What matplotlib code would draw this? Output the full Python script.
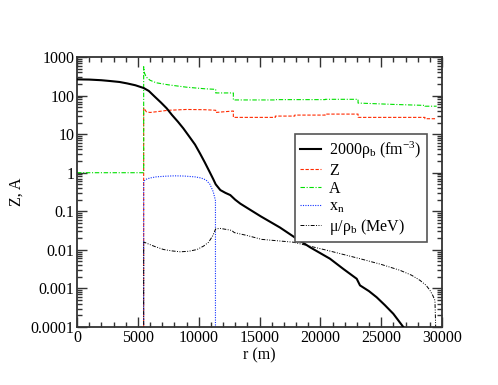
import matplotlib
matplotlib.use("Agg")
import matplotlib.pyplot as plt
from matplotlib.ticker import FixedLocator, FixedFormatter, MultipleLocator, LogLocator, NullFormatter

plt.rcParams['font.family'] = ['Liberation Serif', 'DejaVu Serif']
plt.rcParams['mathtext.fontset'] = 'custom'
plt.rcParams['mathtext.rm'] = 'Liberation Serif'
plt.rcParams['mathtext.it'] = 'Liberation Serif:italic'
plt.rcParams['mathtext.bf'] = 'Liberation Serif:bold'

# ---- data ----
r_rho = [0, 1000, 2000, 2740, 3500, 4110, 4800, 5480, 5900, 6400, 6900, 7370, 7800, 8300,
         8740, 9200, 9700, 10110, 10500, 10900, 11200, 11400, 11780, 12200, 12600, 13000,
         13420, 14220, 15100, 16680, 17900, 19150, 20000, 20790, 21890, 22990, 23260, 24000,
         24630, 25300, 26000, 26820, 27200]
rho = [263, 260, 250, 238, 225, 207, 185, 157, 132, 93, 66, 46.8, 31.6, 20.9,
       14.1, 8.9, 5.37, 3.16, 1.86, 1.05, 0.68, 0.50, 0.355, 0.30, 0.263, 0.20,
       0.158, 0.11, 0.074, 0.038, 0.021, 0.0117, 0.0082, 0.0059, 0.0032, 0.00178, 0.0012, 0.00085,
       0.00059, 0.00037, 0.00022, 0.0001, 0.00007]

r_Z = [5480, 5480, 5700, 6000, 6500, 7500, 9000, 10500, 11400, 11400, 12850, 12850,
       16300, 16300, 17900, 17900, 20400, 20400, 23100, 23100, 28600, 28600, 29560]
Z = [0, 48, 38, 36.5, 38, 41.6, 43.6, 43, 41.6, 36.5, 39.8, 27.2,
     27.2, 29.4, 29.4, 31.2, 31.2, 33.1, 33.1, 27.2, 27.2, 25.1, 25.1]

r_A = [0, 5480, 5480, 5550, 5700, 6000, 6500, 7500, 9000, 10500, 11400, 11400, 12850, 12850,
       16300, 16300, 20400, 20400, 23100, 23100, 26000, 28600, 28600, 29560]
A = [1, 1, 560, 380, 300, 250, 215, 190, 165, 150, 145, 117, 117, 77,
     77, 78.5, 78.5, 80, 80, 64, 59, 55.6, 53, 53]

r_xn = [5480, 5480, 5700, 6000, 6500, 7200, 8000, 8800, 9700, 10200, 10600, 10930,
        11200, 11380, 11400]
xn = [0, 0.60, 0.68, 0.73, 0.78, 0.81, 0.83, 0.82, 0.78, 0.73, 0.65, 0.50,
      0.32, 0.19, 0]

r_mu = [0, 5480, 5480, 5800, 6400, 7120, 7800, 8490, 9200, 9860, 10400, 10820, 11150, 11400,
        11780, 12710, 12930, 14000, 15180, 17780, 20520, 23260, 25000, 26550, 27500, 28190,
        28700, 29010, 29250, 29420, 29480, 29500]
mu = [0, 0, 0.016, 0.0145, 0.0122, 0.0102, 0.0094, 0.0089, 0.0092, 0.0102, 0.0125, 0.0158,
      0.023, 0.035, 0.036, 0.032, 0.028, 0.0235, 0.0187, 0.0158, 0.0098, 0.0059, 0.0042,
      0.00295, 0.0022, 0.00162, 0.0012, 0.00089, 0.00065, 0.00049, 0.0001, 0]

y_ticks = [1e-4, 1e-3, 1e-2, 1e-1, 1, 10, 100, 1000]
y_ticklabels = ['0.0001', '0.001', '0.01', '0.1', '1', '10', '100', '1000']
x_ticks = [0, 5000, 10000, 15000, 20000, 25000, 30000]
x_ticklabels = ['0', '5000', '10000', '15000', '20000', '25000', '30000']

# ---- figure ----
fig = plt.figure(figsize=(4.98, 3.85), dpi=100)
ax = fig.add_axes([77/498, 1-327/385, 365/498, 270/385])

ax.plot(r_rho, rho, color='black', lw=1.5, label='2000ρ$_\\mathrm{b}$ (fm$^{-3}$)', zorder=5)
ax.plot(r_Z, Z, color='#ff2a00', lw=0.8, ls=(0, (3, 1.5)), label='Z')
ax.plot(r_A, A, color='#00e000', lw=0.8, ls=(0, (4, 1.5, 1, 1.5)), label='A')
ax.plot(r_xn, xn, color='#1030ff', lw=0.8, ls=(0, (1, 1.2)), label='x$_\\mathrm{n}$')
ax.plot(r_mu, mu, color='black', lw=0.7, ls=(0, (4, 1.5, 1, 1.5, 1, 1.5)), label='μ/ρ$_\\mathrm{b}$ (MeV)')

ax.set_yscale('log')
ax.set_xlim(0, 30000)
ax.set_ylim(1e-4, 1000)

ax.yaxis.set_major_locator(FixedLocator(y_ticks))
ax.yaxis.set_major_formatter(FixedFormatter(y_ticklabels))
ax.yaxis.set_minor_locator(LogLocator(base=10, subs=range(2, 10)))
ax.yaxis.set_minor_formatter(NullFormatter())
ax.xaxis.set_major_locator(FixedLocator(x_ticks))
ax.xaxis.set_major_formatter(FixedFormatter(x_ticklabels))
ax.xaxis.set_minor_locator(MultipleLocator(1000))

ax.tick_params(which='both', direction='in', top=True, right=True, width=1.0, labelsize=11.5, color='#333333')
ax.tick_params(which='major', length=7, pad=2)
ax.tick_params(which='minor', length=3.5)
for s in ax.spines.values():
    s.set_linewidth(1.3)
    s.set_color('#333333')

ax.set_xlabel('r (m)', fontsize=11.5, labelpad=1)
ax.set_ylabel('Z, A', fontsize=11.5, labelpad=4)

leg = ax.legend(loc='upper right', bbox_to_anchor=(0.959, 0.715), fontsize=11.5,
                frameon=True, fancybox=False, edgecolor='#555555', framealpha=1,
                handlelength=1.3, handletextpad=0.5, labelspacing=0.12,
                borderpad=0.35, borderaxespad=0)
leg.get_frame().set_linewidth(1.2)

fig.savefig('out.png', dpi=100)
